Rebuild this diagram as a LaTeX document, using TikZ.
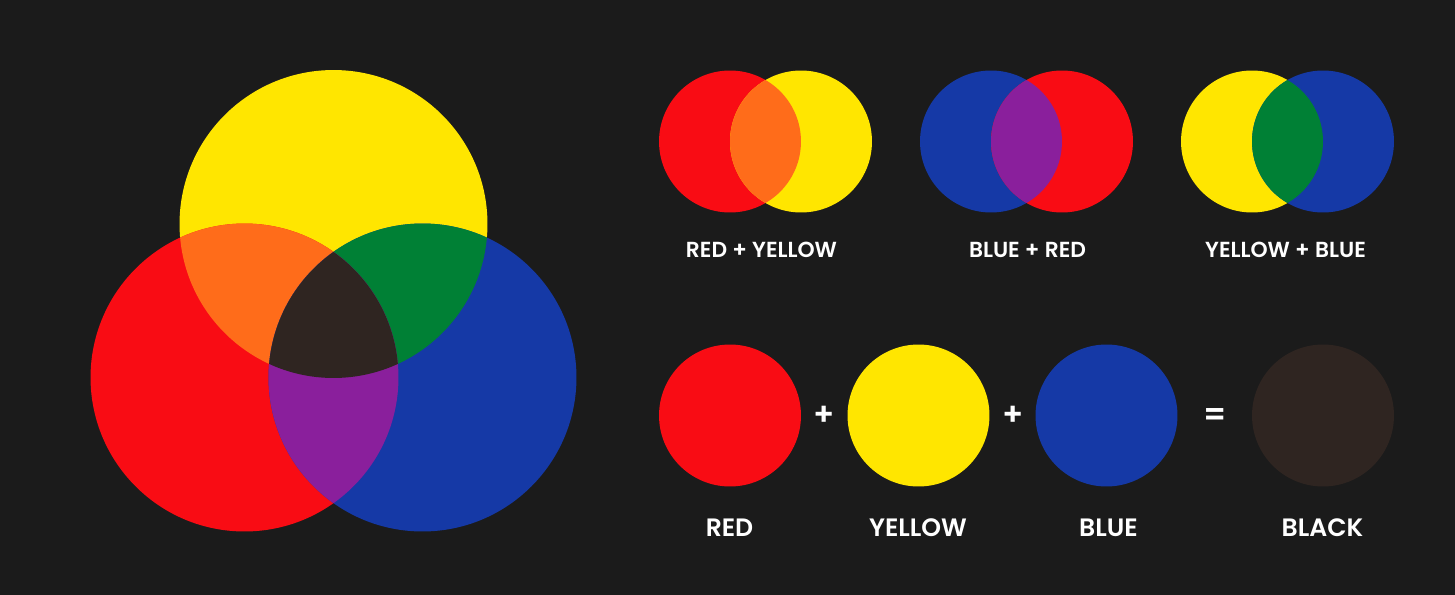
\documentclass[tikz,border=0pt]{standalone}
\usepackage{fontspec}
\setmainfont{Poppins}[BoldFont={Poppins SemiBold}]
\usepackage{tikz}
\usetikzlibrary{positioning}
\definecolor{cmBack}{HTML}{1B1B1B}
\definecolor{cmRed}{HTML}{F90C14}
\definecolor{cmYellow}{HTML}{FFE600}
\definecolor{cmBlue}{HTML}{1539A6}
\definecolor{cmOrange}{HTML}{FF6C1A}
\definecolor{cmGreen}{HTML}{008035}
\definecolor{cmPurple}{HTML}{8A1F9C}
\definecolor{cmDark}{HTML}{2F2521}

\begin{document}
\begin{tikzpicture}[x=0.02cm, y=-0.02cm,
	big/.style={circle, inner sep=0pt, minimum size=6.16cm},
	small/.style={circle, inner sep=0pt, minimum size=2.84cm},
	lbl/.style={text=white, font=\fontsize{12.4}{14}\selectfont\bfseries},
	colname/.style={text=white, font=\fontsize{14.3}{16}\selectfont\bfseries},
	sign/.style={text=white, font=\fontsize{18}{20}\selectfont\bfseries}]
	\fill[cmBack] (0,0) rectangle (1455,595);
	\useasboundingbox (0,0) rectangle (1455,595);
	% big mixing diagram
	\node[big, fill=cmYellow] (bigYellow) at (333.5,224) {};
	\node[big, fill=cmRed] (bigRed) at (244.5,377.5) {};
	\node[big, fill=cmBlue] (bigBlue) at (422.5,377.5) {};
	\begin{scope}
		\clip (bigYellow.center) circle (3.08cm);
		\fill[cmOrange] (bigRed.center) circle (3.08cm);
		\fill[cmGreen] (bigBlue.center) circle (3.08cm);
	\end{scope}
	\begin{scope}
		\clip (bigRed.center) circle (3.08cm);
		\fill[cmPurple] (bigBlue.center) circle (3.08cm);
		\clip (bigBlue.center) circle (3.08cm);
		\fill[cmDark] (bigYellow.center) circle (3.08cm);
	\end{scope}
	% pairs
	\node[small, fill=cmRed] (pairRedA) at (730,141.5) {};
	\node[small, fill=cmYellow] (pairYellowA) at (801,141.5) {};
	\begin{scope}
		\clip (pairRedA.center) circle (1.42cm);
		\fill[cmOrange] (pairYellowA.center) circle (1.42cm);
	\end{scope}
	\node[small, fill=cmBlue] (pairBlueB) at (991,141.5) {};
	\node[small, fill=cmRed] (pairRedB) at (1062,141.5) {};
	\begin{scope}
		\clip (pairBlueB.center) circle (1.42cm);
		\fill[cmPurple] (pairRedB.center) circle (1.42cm);
	\end{scope}
	\node[small, fill=cmYellow] (pairYellowC) at (1252,141.5) {};
	\node[small, fill=cmBlue] (pairBlueC) at (1323,141.5) {};
	\begin{scope}
		\clip (pairYellowC.center) circle (1.42cm);
		\fill[cmGreen] (pairBlueC.center) circle (1.42cm);
	\end{scope}
	\node[lbl] (labelA) at (761.5,250) {RED + YELLOW};
	\node[lbl] (labelB) at (1027.5,250) {BLUE + RED};
	\node[lbl] (labelC) at (1285.5,250) {YELLOW + BLUE};
	% sum row
	\node[small, fill=cmRed] (sumRed) at (730,415.5) {};
	\node[small, fill=cmYellow] (sumYellow) at (918.5,415.5) {};
	\node[small, fill=cmBlue] (sumBlue) at (1106.5,415.5) {};
	\node[small, fill=cmDark] (sumBlack) at (1323,415.5) {};
	\node[sign] (plusA) at (824,416) {+};
	\node[sign] (plusB) at (1013,416) {+};
	\node[sign] (equals) at (1215,417) {=};
	\node[colname] (nameRed) at (729.5,528) {RED};
	\node[colname] (nameYellow) at (918,528) {YELLOW};
	\node[colname] (nameBlue) at (1108.5,528) {BLUE};
	\node[colname] (nameBlack) at (1322.5,528) {BLACK};
\end{tikzpicture}
\end{document}
